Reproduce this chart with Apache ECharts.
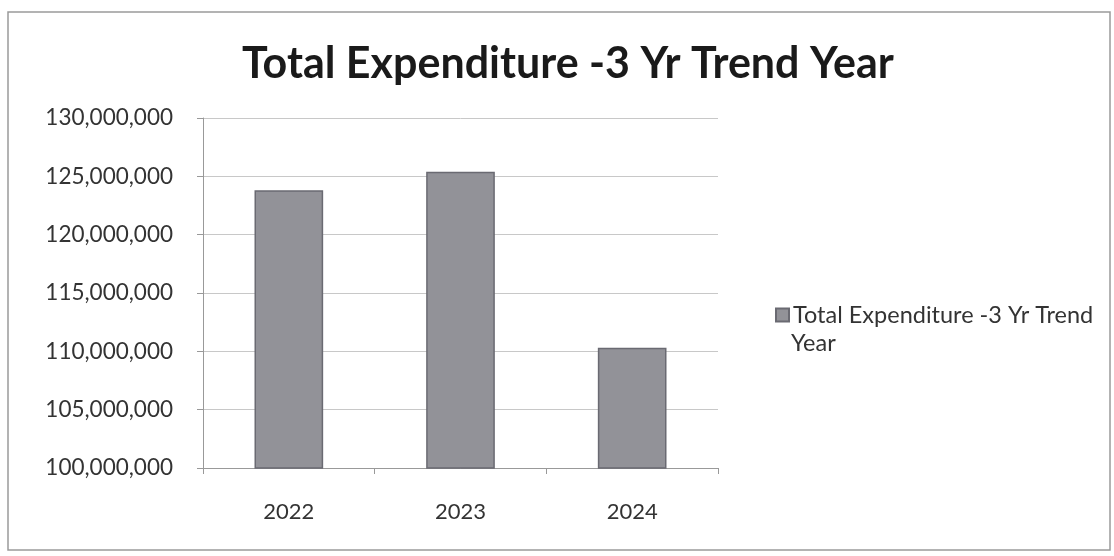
<!DOCTYPE html>
<html>
<head>
<meta charset="utf-8">
<script src="https://cdn.jsdelivr.net/npm/echarts@6/dist/echarts.min.js"></script>
<style>html,body{margin:0;padding:0;background:#fff;}#c{width:1114px;height:556px;}</style>
</head>
<body>
<div id="c"></div>
<script>
const categories = ['2022', '2023', '2024'];
const expenditure = [123800000, 125400000, 110300000];
const seriesName = 'Total Expenditure -3 Yr Trend Year';
const titleText = 'Total Expenditure -3 Yr Trend Year';
const legendLine1 = 'Total Expenditure -3 Yr Trend';
const legendLine2 = 'Year';

const chart = echarts.init(document.getElementById('c'));
const FONT = 'Lato';
chart.setOption({
  animation: false,
  backgroundColor: '#fff',
  graphic: [{
    type: 'rect', shape: {x: 8, y: 12, width: 1102, height: 538},
    style: {fill: 'none', stroke: '#9a9a9a', lineWidth: 1.5}, silent: true, z: -1
  }, {
    type: 'text', left: 791, top: 331,
    style: {text: legendLine2, fontFamily: FONT, fontSize: 23.5, fill: '#333'}
  }],
  title: {
    text: titleText, left: 237, top: 38,
    textStyle: {fontFamily: FONT, fontWeight: 'bold', fontSize: 43, color: '#1a1a1a'}
  },
  legend: {
    left: 770, top: 298, orient: 'vertical',
    itemWidth: 13, itemHeight: 13, itemGap: 8,
    icon: 'rect',
    formatter: () => legendLine1,
    textStyle: {fontFamily: FONT, fontSize: 23.5, color: '#333', padding: [0, 0, 0, -1]}
  },
  grid: {left: 203, right: 1114 - 718, top: 118, bottom: 556 - 468},
  xAxis: {
    type: 'category', data: categories,
    axisLine: {lineStyle: {color: '#999'}},
    axisTick: {show: true, length: 6, lineStyle: {color: '#999'}},
    axisLabel: {fontFamily: FONT, fontSize: 22, color: '#333', margin: 33}
  },
  yAxis: {
    type: 'value', min: 100000000, max: 130000000, interval: 5000000,
    axisLine: {show: true, lineStyle: {color: '#999'}},
    axisTick: {show: true, length: 6, lineStyle: {color: '#999'}},
    splitLine: {lineStyle: {color: '#c8c8c8', width: 1}},
    axisLabel: {
      fontFamily: FONT, fontSize: 22.5, color: '#333', margin: 30,
      formatter: v => v.toLocaleString('en-US')
    }
  },
  series: [{
    name: seriesName, type: 'bar', data: expenditure, barWidth: '40%',
    itemStyle: {color: '#929298', borderColor: '#6a6a72', borderWidth: 1.5}
  }]
});
</script>
</body>
</html>
